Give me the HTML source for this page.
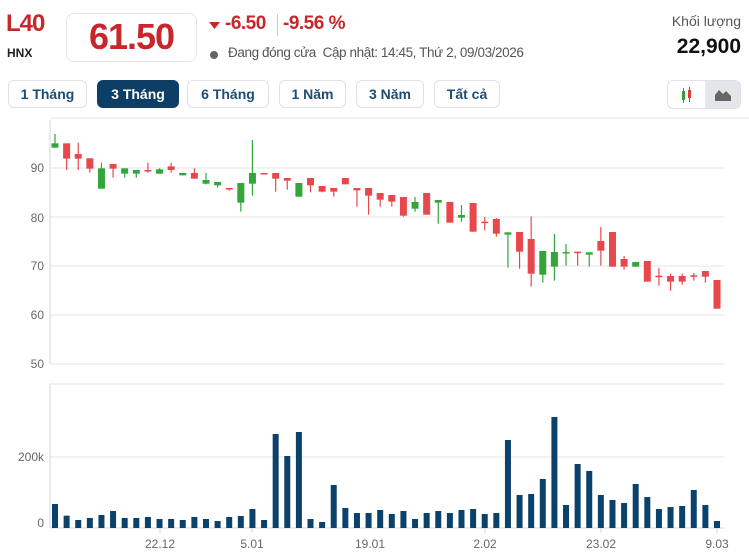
<!DOCTYPE html>
<html><head><meta charset="utf-8"><style>
body{margin:0;width:749px;height:552px;background:#fff;font-family:"Liberation Sans",sans-serif;position:relative;overflow:hidden}
.a{position:absolute;white-space:nowrap}
.btn{position:absolute;top:80px;height:28px;border:1px solid #dde2e8;border-radius:6px;box-sizing:border-box;font-size:14px;font-weight:bold;color:#1d4d73;text-align:center;line-height:26px}
</style></head><body>
<div class="a" style="left:6px;top:10px;font-size:24px;font-weight:bold;color:#c8262b;letter-spacing:-1px">L40</div>
<div class="a" style="left:7px;top:46px;font-size:12px;font-weight:bold;color:#222">HNX</div>
<div class="a" style="left:66px;top:13px;width:131px;height:49px;border:1px solid #e2e5ea;border-radius:8px;box-sizing:border-box"></div>
<div class="a" style="left:66px;top:16px;width:131px;text-align:center;font-size:36px;font-weight:bold;color:#c8262b;letter-spacing:-1px">61.50</div>
<svg class="a" style="left:209px;top:20px" width="12" height="10"><path d="M0 2 L11 2 L5.5 9Z" fill="#c8262b"/></svg>
<div class="a" style="left:225px;top:13px;font-size:19px;font-weight:bold;color:#c8262b;letter-spacing:-0.5px">-6.50</div>
<div class="a" style="left:277px;top:14px;width:1px;height:22px;background:#ccc"></div>
<div class="a" style="left:283px;top:13px;font-size:19px;font-weight:bold;color:#c8262b;letter-spacing:-0.5px">-9.56 %</div>
<div class="a" style="left:210px;top:51px;width:8px;height:8px;border-radius:50%;background:#666"></div>
<div class="a" style="left:228px;top:45px;font-size:13.5px;color:#555;letter-spacing:-0.4px">Đang đóng cửa&nbsp; Cập nhật: 14:45, Thứ 2, 09/03/2026</div>
<div class="a" style="right:8px;top:13px;font-size:14px;color:#555">Khối lượng</div>
<div class="a" style="right:8px;top:35px;font-size:21px;font-weight:bold;color:#111">22,900</div>
<div class="btn" style="left:8px;width:79px">1 Tháng</div>
<div class="btn" style="left:97px;width:82px;background:#0d3e66;color:#fff;border-color:#0d3e66">3 Tháng</div>
<div class="btn" style="left:187px;width:82px">6 Tháng</div>
<div class="btn" style="left:279px;width:67px">1 Năm</div>
<div class="btn" style="left:356px;width:68px">3 Năm</div>
<div class="btn" style="left:434px;width:66px">Tất cả</div>
<div class="a" style="left:667px;top:80px;width:74px;height:29px;border:1px solid #dde2e8;border-radius:6px;box-sizing:border-box;overflow:hidden">
<div class="a" style="left:37px;top:0;width:37px;height:29px;background:#e4e6e9"></div>
<svg class="a" style="left:0;top:0" width="74" height="29"><rect x="14" y="10" width="3" height="9" fill="#2fa13a"/><line x1="15.5" y1="7" x2="15.5" y2="22" stroke="#2fa13a"/><rect x="20" y="9" width="3" height="8" fill="#e03a3a"/><line x1="21.5" y1="6" x2="21.5" y2="21" stroke="#e03a3a"/><path d="M47 20 L47 14 L51 9 L55 13 L58 10 L63 15 L63 20Z" fill="#666"/></svg></div>
<svg class="a" style="left:0;top:0" width="749" height="552" id="c">
<line x1="50" y1="118" x2="749" y2="118" stroke="#e3e6ea"/>
<g stroke="#e3e6ea"><line x1="50" y1="168" x2="724" y2="168"/><line x1="50" y1="217" x2="724" y2="217"/><line x1="50" y1="266" x2="724" y2="266"/><line x1="50" y1="315" x2="724" y2="315"/><line x1="50" y1="364" x2="724" y2="364"/><line x1="50" y1="384" x2="724" y2="384"/><line x1="50" y1="457" x2="724" y2="457"/></g>
<line x1="50" y1="120" x2="50" y2="364" stroke="#cdd8e3"/><line x1="50" y1="384" x2="50" y2="528" stroke="#cdd8e3"/>
<line x1="50" y1="528" x2="724" y2="528" stroke="#cdd8e3"/>
<g font-size="12" fill="#666" text-anchor="end"><text x="44" y="172">90</text><text x="44" y="222">80</text><text x="44" y="270">70</text><text x="44" y="319">60</text><text x="44" y="368">50</text><text x="44" y="461">200k</text><text x="44" y="527">0</text></g>
<g font-size="12" fill="#666" text-anchor="middle"><text x="160" y="548">22.12</text><text x="252" y="548">5.01</text><text x="370" y="548">19.01</text><text x="485" y="548">2.02</text><text x="601" y="548">23.02</text><text x="717" y="548">9.03</text></g>
<g stroke="#cdd8e3"><line x1="160" y1="528" x2="160" y2="533"/><line x1="252" y1="528" x2="252" y2="533"/><line x1="485" y1="528" x2="485" y2="533"/><line x1="601" y1="528" x2="601" y2="533"/><line x1="717" y1="528" x2="717" y2="533"/></g>
</svg>
<script>
var d=[["G",70,83,42,83],["R",70,116,70,150],["R",102,116,68,150],["R",115,146,115,158],["G",145,206,128,206],["R",132,146,132,173],["G",145,161,145,173],["G",150,161,150,173],["R",150,153,128,158],["G",148,161,145,161],["R",139,150,128,158],["G",159,166,159,166],["R",159,176,145,176],["G",180,191,159,193],["G",186,196,186,203],["R",204,207,204,212],["G",189,248,189,275],["G",159,191,60,227],["R",159,161,159,161],["R",159,176,159,215],["R",174,182,174,209],["G",189,230,189,230],["R",174,196,174,217],["R",198,215,198,217],["R",204,215,204,230],["R",174,193,174,193],["R",204,211,204,260],["R",204,227,204,284],
["R",219,239,219,260],["R",225,245,225,260],["R",231,287,231,290],["G",246,266,231,275],["R",219,284,219,284],["G",240,248,240,311],["R",246,308,246,308],["G",285,293,255,305],["R",249,335,249,335],["R",305,307,291,331],["R",297,341,294,350],["G",337,344,337,443],["R",336,395,336,446],["R",357,461,289,500],["G",393,464,393,488],["G",396,440,342,482],["G",396,398,372,437],["R",395,397,395,437],["G",397,404,397,440],["R",363,392,321,437],["R",336,440,336,440],["R",417,440,408,449],["G",426,440,426,440],["R",423,485,423,485],["R",467,469,444,497],["R",468,485,461,512],["R",468,485,461,494],["R",466,468,459,482],["R",453,470,453,488],["R",480,566,480,566]];
var v=[402,437,450,444,435,423,444,444,441,447,447,450,441,447,453,441,438,417,450,192,258,186,447,456,345,414,429,429,420,432,423,447,429,423,429,420,417,432,429,210,375,372,327,141,405,282,303,375,390,399,342,381,417,411,408,360,405,453];
var s="";
d.forEach(function(c,i){var x=55+i*(662/57),col=c[0]=="G"?"#33a53b":"#e8484c",y=function(z){return 120+z/3};
var t=y(c[1]),b=Math.max(y(c[2]),t+1.5);
s+='<line x1="'+x+'" x2="'+x+'" y1="'+y(c[3])+'" y2="'+Math.max(y(c[4]),b)+'" stroke="'+col+'" stroke-width="1.2"/>';
s+='<rect x="'+(x-3.5)+'" y="'+t+'" width="7" height="'+(b-t)+'" fill="'+col+'"/>';
var vt=370+v[i]/3;s+='<rect x="'+(x-3)+'" y="'+vt+'" width="6" height="'+(528-vt)+'" fill="#0b426c"/>';});
document.getElementById("c").insertAdjacentHTML("beforeend",s);
</script>
</body></html>
